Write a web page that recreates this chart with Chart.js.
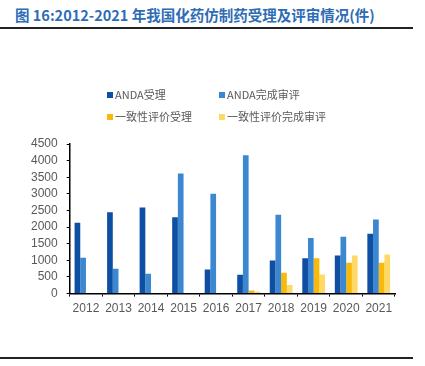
<!DOCTYPE html>
<html>
<head>
<meta charset="utf-8">
<script src="https://cdn.jsdelivr.net/npm/chart.js@4"></script>
<style>
    body { margin: 0; background: #fff; }
    #wrap { position: relative; width: 425px; height: 366px; overflow: hidden; }
    #title { position: absolute; left: 15px; top: 4px; font-family: "Noto Sans CJK SC", sans-serif; font-weight: bold; font-size: 14.5px; color: #2e6cb5; white-space: nowrap; }
    .rule { position: absolute; left: 0; width: 413px; height: 2px; background: #222; }
    #legend { position: absolute; left: 0; top: 0; font-family: "Noto Sans CJK SC", "Liberation Sans", sans-serif; font-size: 11px; color: #595959; }
    .item { position: absolute; white-space: nowrap; line-height: 12px; }
    .item span { display: inline-block; width: 6px; height: 6px; margin-right: 2px; vertical-align: 1px; }
    canvas { position: absolute; left: 0; top: 0; }
</style>
</head>
<body>
<div id="wrap">
    <div id="title">图 16:2012-2021 年我国化药仿制药受理及评审情况(件)</div>
    <div class="rule" style="top:27px"></div>
    <canvas id="chart" width="425" height="366"></canvas>
    <div id="legend"></div>
    <div class="rule" style="top:357px"></div>
</div>
<script>
const years = ["2012", "2013", "2014", "2015", "2016", "2017", "2018", "2019", "2020", "2021"];
const andaAccepted = [2130, 2450, 2590, 2300, 725, 570, 995, 1065, 1145, 1800];
const andaReviewed = [1075, 745, 600, 3615, 3000, 4160, 2370, 1675, 1710, 2230];
const consistencyAccepted = [0, 0, 0, 0, 0, 90, 625, 1065, 925, 925];
const consistencyReviewed = [0, 0, 0, 0, 0, 60, 258, 578, 1145, 1175];
const seriesNames = ["ANDA受理", "ANDA完成审评", "一致性评价受理", "一致性评价完成审评"];
const seriesColors = ["#0f4fa3", "#3b88d1", "#f8b90b", "#ffd966"];

const seriesData = [andaAccepted, andaReviewed, consistencyAccepted, consistencyReviewed];

// legend laid out as a 2x2 grid
const legendPos = [[107, 88], [219, 88], [107, 110], [219, 110]];
const legend = document.getElementById("legend");
seriesNames.forEach((name, i) => {
    const el = document.createElement("div");
    el.className = "item";
    el.style.left = legendPos[i][0] + "px";
    el.style.top = legendPos[i][1] + "px";
    el.innerHTML = '<span style="background:' + seriesColors[i] + '"></span>' + name;
    legend.appendChild(el);
});

const ctx = document.getElementById("chart").getContext("2d");
new Chart(ctx, {
    type: "bar",
    data: {
        labels: years,
        datasets: seriesNames.map((name, i) => ({
            label: name,
            data: seriesData[i],
            backgroundColor: seriesColors[i],
            borderWidth: 0,
            categoryPercentage: 0.7,
            barPercentage: 1
        }))
    },
    options: {
        responsive: false,
        animation: false,
        layout: { padding: { left: 22, right: 30, top: 144, bottom: 45 } },
        plugins: {
            legend: { display: false },
            tooltip: { enabled: false }
        },
        scales: {
            x: {
                grid: { display: true, drawOnChartArea: false, color: "#000", tickLength: 3, offset: true },
                border: { color: "#000", width: 1.5 },
                ticks: { color: "#595959", font: { family: "Liberation Sans", size: 12 }, padding: 5, maxRotation: 0, autoSkip: false }
            },
            y: {
                min: 0,
                max: 4500,
                grid: { display: true, drawOnChartArea: false, color: "#000", tickLength: 3 },
                border: { color: "#000", width: 1.5 },
                ticks: {
                    stepSize: 500,
                    autoSkip: false,
                    color: "#595959",
                    font: { family: "Liberation Sans", size: 12 },
                    padding: 9,
                    callback: v => String(v)
                }
            }
        }
    }
});
</script>
</body>
</html>
